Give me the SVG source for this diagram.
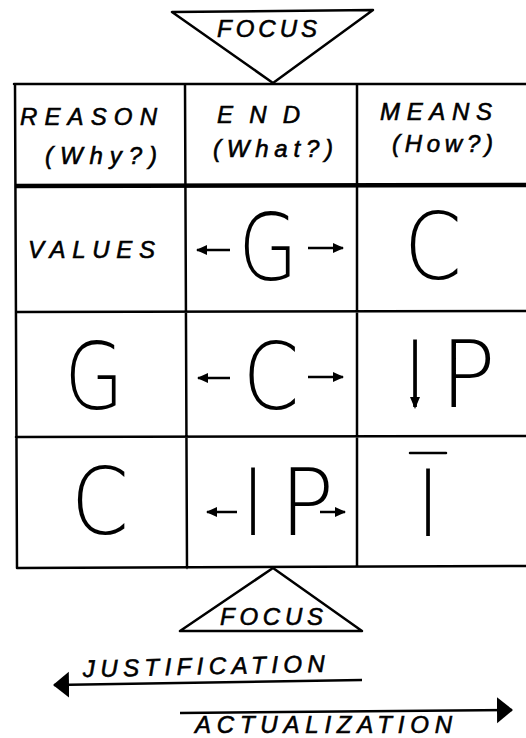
<svg xmlns="http://www.w3.org/2000/svg" width="526" height="738" viewBox="0 0 526 738">
<style>
.ln{stroke:#000;stroke-width:2.5;fill:none;stroke-linecap:round;stroke-linejoin:round}
.lab{font-family:"Liberation Sans",Arial,sans-serif;font-style:italic;font-size:24px;fill:#000;stroke:#000;stroke-width:0.6}
.big{font-family:"DejaVu Sans",sans-serif;font-weight:200;font-size:92px;fill:#000;text-anchor:middle}
.arr{stroke:#000;stroke-width:2.5;fill:none}
</style>
<defs>
<marker id="ah" markerUnits="userSpaceOnUse" markerWidth="12" markerHeight="12" refX="10" refY="6" orient="auto">
<path d="M0,1 L11,6 L0,11 Z" fill="#000"/>
</marker>
<marker id="ahBig" markerUnits="userSpaceOnUse" markerWidth="18" markerHeight="28" refX="15" refY="14" orient="auto">
<path d="M0,1 L16,14 L0,27 Z" fill="#000"/>
</marker>
</defs>
<rect width="526" height="738" fill="#fff"/>
<g id="focus-top">
<path class="ln" d="M172,12 L373,10 L273,83 Z"/>
<text class="lab" x="217" y="37" font-size="21" textLength="100" lengthAdjust="spacing">FOCUS</text>
</g>
<g id="table">
<path class="ln" d="M14,84 L526,84 M15,84 L17,568 L526,566 M185,84 L187,568 M357,84 L357,566 M16,312 L526,311 M16,437 L526,436"/>
<path d="M15,186 L526,185" stroke="#000" stroke-width="4.5" fill="none"/>
</g>
<g id="header-reason">
<text class="lab" x="20" y="125" textLength="137" lengthAdjust="spacing">REASON</text>
<text class="lab" x="45" y="164" textLength="112" lengthAdjust="spacing">(Why?)</text>
</g>
<g id="header-end">
<text class="lab" x="217" y="123" textLength="83" lengthAdjust="spacing">END</text>
<text class="lab" x="213" y="157" textLength="120" lengthAdjust="spacing">(What?)</text>
</g>
<g id="header-means">
<text class="lab" x="380" y="120" textLength="112" lengthAdjust="spacing">MEANS</text>
<text class="lab" x="392" y="152" textLength="101" lengthAdjust="spacing">(How?)</text>
</g>
<g id="values">
<text class="lab" x="28" y="258" font-size="24" font-style="normal" textLength="127" lengthAdjust="spacing">VALUES</text>
</g>
<g id="r1-end">
<text class="big" transform="translate(268,280) scale(0.83,1)">G</text>
</g>
<g id="r1-means">
<text class="big" transform="translate(433,279) scale(0.9,1)">C</text>
</g>
<g id="r2-reason">
<text class="big" transform="translate(94,409) scale(0.83,1)">G</text>
</g>
<g id="r2-end">
<text class="big" transform="translate(271,409) scale(0.88,1)">C</text>
</g>
<g id="r2-means">
<text class="big" transform="translate(415,407) scale(0.8,1)">I</text>
<text class="big" transform="translate(468,407) scale(1,1)">P</text>
<path d="M410,397 L415,409 L420,397 Z" fill="#000"/>
</g>
<g id="r3-reason">
<text class="big" transform="translate(100,534) scale(0.9,1)">C</text>
</g>
<g id="r3-end">
<text class="big" transform="translate(253,535) scale(0.8,1)">I</text>
<text class="big" transform="translate(307,535) scale(0.98,1)">P</text>
</g>
<g id="r3-means">
<text class="big" transform="translate(428,536) scale(0.8,1)">I</text>
<path class="ln" d="M410,453 L446,453"/>
</g>
<g id="focus-bottom">
<path class="ln" d="M273,568 L180,631 L362,631 Z"/>
<text class="lab" x="220" y="625" font-size="22" textLength="103" lengthAdjust="spacing">FOCUS</text>
</g>
<g id="connectors">
<path class="arr" d="M230,250 L197,250" marker-end="url(#ah)"/>
<path class="arr" d="M308,248 L343,248" marker-end="url(#ah)"/>
<path class="arr" d="M230,378 L198,378" marker-end="url(#ah)"/>
<path class="arr" d="M308,377 L343,377" marker-end="url(#ah)"/>
<path class="arr" d="M237,512 L207,512" marker-end="url(#ah)"/>
<path class="arr" d="M320,512 L345,512" marker-end="url(#ah)"/>
<path class="arr" d="M362,680 L54,685" marker-end="url(#ahBig)"/>
<path class="arr" d="M180,713 L512,710" marker-end="url(#ahBig)"/>
</g>
<g id="labels-bottom">
<text class="lab" x="83" y="677" textLength="242" lengthAdjust="spacing" transform="rotate(-1.2 83 677)">JUSTIFICATION</text>
<text class="lab" x="195" y="733" font-size="22" font-style="normal" textLength="257" lengthAdjust="spacing">ACTUALIZATION</text>
</g>
</svg>
